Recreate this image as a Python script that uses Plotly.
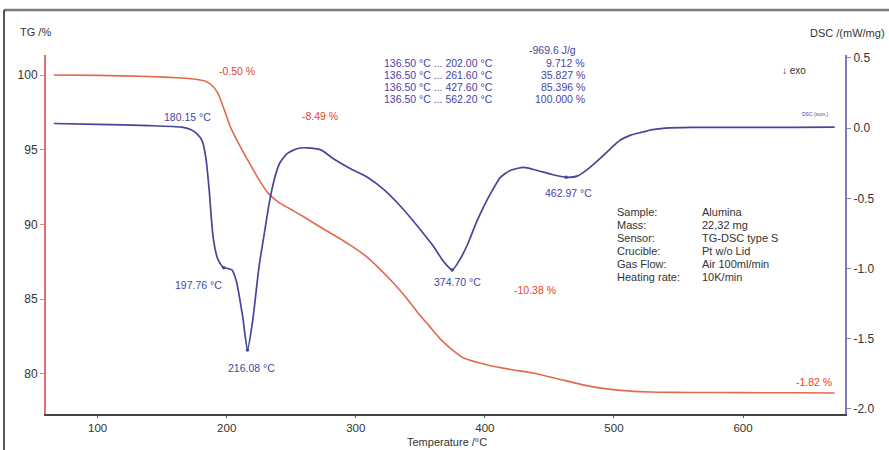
import plotly.graph_objects as go

# ---- TG curve (mass %, left axis) ----
tg_temp = [66, 100, 140, 165, 176, 183, 188, 193, 198, 203, 210, 217, 225, 232, 240,
           250, 258, 273, 283, 296, 309, 320, 329, 340, 348, 357, 366, 375, 384, 393,
           402, 420, 438, 460, 480, 490, 505, 520, 535, 560, 600, 640, 671]
tg_mass = [100.0, 99.98, 99.9, 99.8, 99.72, 99.6, 99.35, 98.8, 97.7, 96.5, 95.3, 94.2,
           93.0, 92.1, 91.5, 91.0, 90.6, 89.8, 89.3, 88.6, 87.8, 86.9, 86.1, 85.0, 84.1,
           83.2, 82.3, 81.6, 81.05, 80.8, 80.6, 80.3, 80.05, 79.6, 79.2, 79.05, 78.9,
           78.82, 78.78, 78.76, 78.75, 78.74, 78.73]

# ---- DSC curve (mW/mg, right axis) ----
dsc_temp = [66, 100, 140, 165, 172, 177, 181, 184, 186.5, 189.5, 193, 197, 201, 204,
            207.5, 212.5, 216.1, 220, 225, 230, 233, 237, 241, 247, 255, 262, 273, 283,
            296, 309, 322, 335, 348, 360, 368, 374.7, 381, 387, 393, 399, 406, 412, 420,
            430, 440, 452, 463, 472, 480, 490, 498, 505, 513, 521, 530, 540, 560, 600,
            640, 671]
dsc_signal = [0.033, 0.027, 0.018, 0.007, -0.01, -0.04, -0.09, -0.22, -0.45, -0.78,
              -0.93, -0.99, -1.0, -1.01, -1.09, -1.35, -1.58, -1.38, -0.99, -0.70, -0.53,
              -0.36, -0.25, -0.18, -0.145, -0.14, -0.155, -0.22, -0.29, -0.35, -0.44,
              -0.56, -0.70, -0.84, -0.95, -1.01, -0.93, -0.82, -0.68, -0.56, -0.44, -0.35,
              -0.30, -0.28, -0.30, -0.33, -0.35, -0.34, -0.29, -0.21, -0.14, -0.085,
              -0.05, -0.03, -0.01, 0.0, 0.005, 0.006, 0.006, 0.007]

# ---- evaluated DSC events ----
onset_temp = 180.15
peak_temps = [197.76, 216.08, 374.70, 462.97]
peak_dsc = [-0.995, -1.58, -1.01, -0.35]

# ---- TG mass-loss steps ----
mass_steps = [-0.50, -8.49, -10.38, -1.82]

# ---- partial peak area evaluation ----
area_enthalpy = -969.6
area_start = 136.50
area_ends = [202.00, 261.60, 427.60, 562.20]
area_fractions = [9.712, 35.827, 85.396, 100.000]

# ---- measurement conditions ----
info_keys = ["Sample:", "Mass:", "Sensor:", "Crucible:", "Gas Flow:", "Heating rate:"]
info_vals = ["Alumina", "22,32 mg", "TG-DSC type S", "Pt w/o Lid", "Air 100ml/min", "10K/min"]

x_ticks = [100, 200, 300, 400, 500, 600]
tg_ticks = [80, 85, 90, 95, 100]
dsc_ticks = [-2.0, -1.5, -1.0, -0.5, 0.0, 0.5]

TG_COLOR = "#e2694a"
TG_TEXT = "#e2432c"
DSC_COLOR = "#45459a"
DSC_TEXT = "#4646a6"
INK = "#333333"
FONT = "Liberation Sans, Arial, sans-serif"

W, H = 889, 450
L, R, T, B = 46, 845, 55, 414


def px(x):
    return (x - L) / (R - L)


def py(y):
    return (B - y) / (B - T)


fig = go.Figure()
fig.add_trace(go.Scatter(x=tg_temp, y=tg_mass, mode="lines", yaxis="y",
                         line=dict(color=TG_COLOR, width=1.6, shape="spline", smoothing=0.6),
                         hoverinfo="skip", showlegend=False))
fig.add_trace(go.Scatter(x=dsc_temp, y=dsc_signal, mode="lines", yaxis="y2",
                         line=dict(color=DSC_COLOR, width=1.7, shape="spline", smoothing=0.6),
                         hoverinfo="skip", showlegend=False))
fig.add_trace(go.Scatter(x=peak_temps, y=peak_dsc, mode="markers", yaxis="y2",
                         marker=dict(color=DSC_COLOR, size=3.5),
                         hoverinfo="skip", showlegend=False))

ann = []


def text(x, y, s, color=INK, size=10.5, xa="center"):
    ann.append(dict(x=px(x), y=py(y), xref="paper", yref="paper", text=s,
                    showarrow=False, xanchor=xa, yanchor="middle",
                    font=dict(family=FONT, size=size, color=color)))


# axis titles
text(18, 32, "TG /%", size=11, xa="left")
text(887, 33, "DSC /(mW/mg)", size=11, xa="right")
text(447, 442, "Temperature /°C", size=11)
text(780, 70, "↓ exo", size=10, xa="left")
text(815, 114, "DSC (sum.)", color=DSC_TEXT, size=5)

# mass-loss steps
step_pos = [(237, 71), (320, 116), (535, 290), (814, 382)]
for v, (x, y) in zip(mass_steps, step_pos):
    text(x, y, f"{v:.2f} %", color=TG_TEXT, size=10.5)

# event temperatures
event_pos = [(187, 117), (198, 285), (251, 368), (457, 282), (568, 193)]
for t, (x, y) in zip([onset_temp] + peak_temps, event_pos):
    text(x, y, f"{t:.2f} °C", color=DSC_TEXT, size=10.5)

# partial area block
text(578, 50, f"{area_enthalpy:.1f} J/g", color=DSC_TEXT, size=10.5, xa="right")
for i, (e, f) in enumerate(zip(area_ends, area_fractions)):
    y = 63 + i * 12
    text(382, y, f"{area_start:.2f} °C ... {e:.2f} °C", color=DSC_TEXT, size=10.5, xa="left")
    text(587, y, f"{f:.3f} %", color=DSC_TEXT, size=10.5, xa="right")

# measurement conditions
for i, (k, v) in enumerate(zip(info_keys, info_vals)):
    y = 212 + i * 13
    text(615, y, k, size=11, xa="left")
    text(700, y, v, size=11, xa="left")

# outer frame: grey top rule and dark left rule
shapes = [
    dict(type="line", xref="paper", yref="paper", x0=px(4), x1=px(889), y0=py(10), y1=py(10),
         line=dict(color="#7a7a7a", width=2.5)),
    dict(type="line", xref="paper", yref="paper", x0=px(4), x1=px(4), y0=py(10), y1=py(450),
         line=dict(color="#222222", width=1.5)),
]

axis_font = dict(family=FONT, size=12, color=INK)
fig.update_layout(
    width=W, height=H,
    margin=dict(l=L, r=W - R, t=T, b=H - B),
    paper_bgcolor="white", plot_bgcolor="white",
    showlegend=False,
    annotations=ann, shapes=shapes,
    xaxis=dict(range=[60, 679], tickvals=x_ticks, ticks="outside", ticklen=2,
               tickcolor="#555", showline=True, linecolor="#444", linewidth=1.5,
               showgrid=False, zeroline=False,
               tickfont=dict(family=FONT, size=11.5, color=INK)),
    yaxis=dict(range=[77.32, 101.34], tickvals=tg_ticks, ticks="outside", ticklen=4,
               tickcolor="#d88", showline=True, linecolor="#e07070", linewidth=2,
               showgrid=False, zeroline=False, tickfont=axis_font),
    yaxis2=dict(range=[-2.036, 0.521], tickvals=dsc_ticks,
                ticktext=[f"{v:.1f}" for v in dsc_ticks],
                ticks="outside", ticklen=4, tickcolor="#88a", overlaying="y", side="right",
                showline=True, linecolor="#7a7ac0", linewidth=2, anchor="x",
                showgrid=False, zeroline=False, tickfont=axis_font),
)

fig.write_html("out.html")
